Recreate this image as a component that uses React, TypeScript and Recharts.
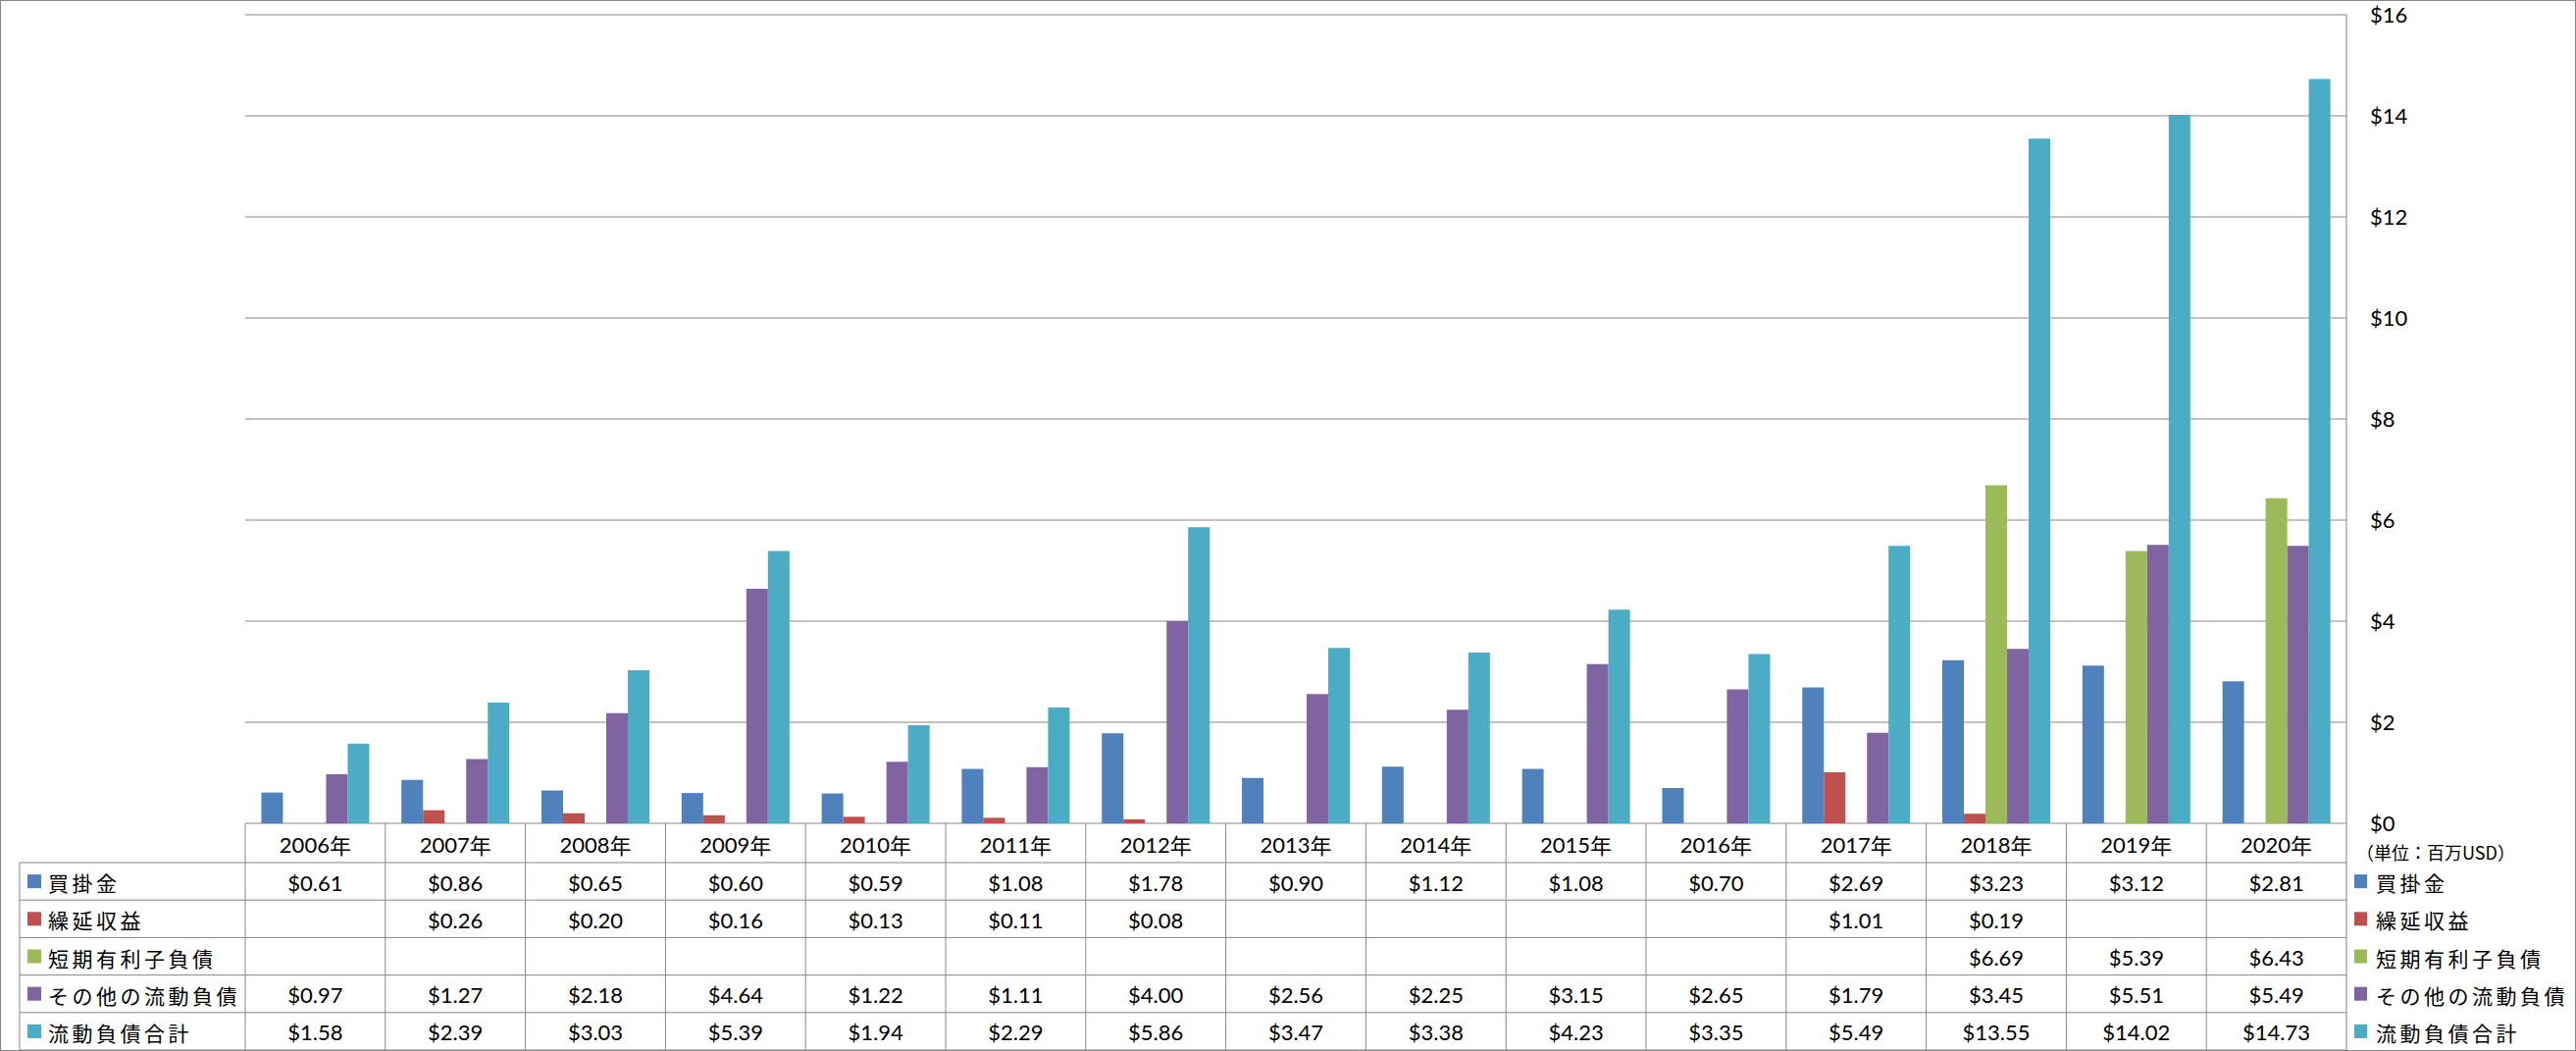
import React from 'react';
import { BarChart, Bar, XAxis, YAxis, CartesianGrid } from 'recharts';

// 年度（カテゴリ）
const years = ['2006年', '2007年', '2008年', '2009年', '2010年', '2011年', '2012年', '2013年', '2014年', '2015年', '2016年', '2017年', '2018年', '2019年', '2020年'];

// 各系列の値（百万USD）
const accountsPayable = [0.61, 0.86, 0.65, 0.6, 0.59, 1.08, 1.78, 0.9, 1.12, 1.08, 0.7, 2.69, 3.23, 3.12, 2.81];
const deferredRevenue = [null, 0.26, 0.2, 0.16, 0.13, 0.11, 0.08, null, null, null, null, 1.01, 0.19, null, null];
const shortTermDebt = [null, null, null, null, null, null, null, null, null, null, null, null, 6.69, 5.39, 6.43];
const otherCurrent = [0.97, 1.27, 2.18, 4.64, 1.22, 1.11, 4.0, 2.56, 2.25, 3.15, 2.65, 1.79, 3.45, 5.51, 5.49];
const totalCurrent = [1.58, 2.39, 3.03, 5.39, 1.94, 2.29, 5.86, 3.47, 3.38, 4.23, 3.35, 5.49, 13.55, 14.02, 14.73];

const yTicks = [0, 2, 4, 6, 8, 10, 12, 14, 16];
const unitLabel = '（単位：百万USD）';

const series = [
  { key: 'ap', name: '買掛金', color: '#4F81BD', values: accountsPayable },
  { key: 'dr', name: '繰延収益', color: '#C0504D', values: deferredRevenue },
  { key: 'sd', name: '短期有利子負債', color: '#9BBB59', values: shortTermDebt },
  { key: 'oc', name: 'その他の流動負債', color: '#8064A2', values: otherCurrent },
  { key: 'tc', name: '流動負債合計', color: '#4BACC6', values: totalCurrent },
];

const chartData = years.map((year, i) => {
  const row: { [k: string]: string | number | null } = { year };
  series.forEach(s => { row[s.key] = s.values[i]; });
  return row;
});

// レイアウト
const W = 2626;
const H = 1071;
const PLOT_LEFT = 250;
const PLOT_RIGHT = 2392;
const PLOT_TOP = 15;
const PLOT_BOTTOM = 839;
const HEADER_H = 40;
const ROW_H = 38.2;
const TABLE_LEFT = 20;
const TABLE_BOTTOM = PLOT_BOTTOM + HEADER_H + ROW_H * 5;
const COL_W = (PLOT_RIGHT - PLOT_LEFT) / years.length;
const LINE = '#878787';
const LATIN = "Lato, 'Noto Sans CJK JP', sans-serif";
const CJK = "'Noto Sans CJK JP', sans-serif";

const fmt = (v: number | null) => (v == null ? '' : `$${v.toFixed(2)}`);
const rowMid = (r: number) => PLOT_BOTTOM + HEADER_H + ROW_H * r + ROW_H / 2;

// X軸の目盛りとしてデータテーブルの列を描く
function TableColumn(props: any) {
  const { x, payload } = props;
  const i = payload.index ?? props.index;
  const left = x - COL_W / 2;
  const label = String(payload.value);
  return (
    <g>
      <line x1={left} y1={PLOT_BOTTOM} x2={left} y2={TABLE_BOTTOM} stroke={LINE} strokeWidth={1} />
      <text x={x} y={PLOT_BOTTOM + HEADER_H / 2 + 1} textAnchor="middle" dominantBaseline="central" fontFamily={LATIN} fontSize={22} fill="#000">
        {label.slice(0, 4)}
        <tspan fontFamily={CJK} fontSize={22}>{label.slice(4)}</tspan>
      </text>
      {series.map((s, r) => (
        <text key={s.key} x={x} y={rowMid(r) + 1} textAnchor="middle" dominantBaseline="central" fontFamily={LATIN} fontSize={22} fill="#000">
          {fmt(s.values[i])}
        </text>
      ))}
    </g>
  );
}

export default function App() {
  return (
    <div style={{ position: 'absolute', left: 0, top: 0, width: W, height: H, background: '#fff' }}>
      <BarChart
        width={W}
        height={H}
        data={chartData}
        margin={{ top: PLOT_TOP, right: 0, left: PLOT_LEFT, bottom: 0 }}
        barCategoryGap="11.5%"
        barGap={0}
      >
        <CartesianGrid vertical={false} stroke={LINE} strokeWidth={1} />
        <XAxis
          dataKey="year"
          height={H - PLOT_BOTTOM}
          axisLine={false}
          tickLine={false}
          interval={0}
          tick={<TableColumn />}
        />
        <YAxis
          orientation="right"
          width={W - PLOT_RIGHT}
          domain={[0, 16]}
          ticks={yTicks}
          interval={0}
          axisLine={{ stroke: LINE, strokeWidth: 1 }}
          tickLine={false}
          tickSize={0}
          tickMargin={24}
          tickFormatter={(v: number) => `$${v}`}
          tick={{ fontFamily: LATIN, fontSize: 22, fill: '#000' }}
        />
        {series.map(s => (
          <Bar key={s.key} dataKey={s.key} name={s.name} fill={s.color} isAnimationActive={false} />
        ))}
      </BarChart>

      {/* 枠線・行見出し・凡例 */}
      <svg width={W} height={H} style={{ position: 'absolute', left: 0, top: 0, pointerEvents: 'none' }}>
        <rect x={0.5} y={0.5} width={W - 1} height={H - 1} fill="none" stroke={LINE} strokeWidth={1} />
        <line x1={PLOT_RIGHT} y1={PLOT_BOTTOM} x2={PLOT_RIGHT} y2={TABLE_BOTTOM} stroke={LINE} />
        <line x1={TABLE_LEFT} y1={PLOT_BOTTOM + HEADER_H} x2={TABLE_LEFT} y2={TABLE_BOTTOM} stroke={LINE} />
        {[0, 1, 2, 3, 4, 5].map(r => (
          <line key={r} x1={TABLE_LEFT} y1={PLOT_BOTTOM + HEADER_H + ROW_H * r} x2={PLOT_RIGHT} y2={PLOT_BOTTOM + HEADER_H + ROW_H * r} stroke={LINE} />
        ))}
        {series.map((s, r) => (
          <g key={s.key}>
            <rect x={28} y={rowMid(r) - 7} width={14} height={14} fill={s.color} />
            <text x={49} y={rowMid(r) + 1} dominantBaseline="central" fontFamily={CJK} fontSize={21} letterSpacing={3.5} fill="#000">{s.name}</text>
            <rect x={2400} y={rowMid(r) - 7} width={13} height={14} fill={s.color} />
            <text x={2422} y={rowMid(r) + 1} dominantBaseline="central" fontFamily={CJK} fontSize={21} letterSpacing={3.5} fill="#000">{s.name}</text>
          </g>
        ))}
        <text x={2402} y={868} dominantBaseline="central" fontFamily={CJK} fontSize={18} fill="#000">{unitLabel}</text>
      </svg>
    </div>
  );
}
